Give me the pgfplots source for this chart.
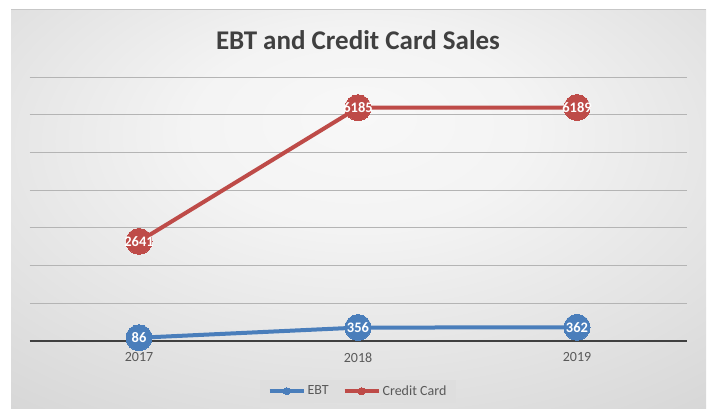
\documentclass[border=0pt]{standalone}
\usepackage{pgfplots}
\pgfplotsset{compat=1.18}
\usepackage{fontspec}
\setmainfont{Carlito}

\definecolor{ebtblue}{HTML}{4A7EBB}
\definecolor{ccred}{HTML}{BE4B48}
\definecolor{txtgray}{HTML}{595959}
\definecolor{titlegray}{HTML}{404040}
\definecolor{gridgray}{HTML}{B4B4B4}
\definecolor{bginner}{HTML}{F8F8F8}
\definecolor{bgouter}{HTML}{C2C2C2}

\pgfdeclareradialshading{chartbg}{\pgfpoint{0bp}{12bp}}{%
  color(0bp)=(bginner); color(12bp)=(bginner!92!bgouter); color(60bp)=(bgouter); color(75bp)=(bgouter)}

\begin{document}
\begin{tikzpicture}[x=1pt,y=1pt]
\useasboundingbox (0pt,0pt) rectangle (711pt,408pt);
% canvas and chart background
\fill[white] (0pt,0pt) rectangle (711pt,408pt);
\shade[shading=chartbg] (11pt,0pt) rectangle (706pt,398pt);
\draw[black!22, line width=1pt] (11pt,398pt) -- (706pt,398pt);
\node[font=\bfseries\fontsize{27}{30}\selectfont, text=titlegray, anchor=base] at (358pt,359pt) {EBT and Credit Card Sales};

\begin{axis}[
    at={(29.5pt,67pt)},
    anchor=south west,
    scale only axis,
    width=657pt,
    height=264pt,
    xmin=-0.5, xmax=2.5,
    ymin=0, ymax=7000,
    xtick={0,1,2},
    xticklabels={\mbox{2017},\mbox{2018},\mbox{2019}},
    ytick={1000,2000,...,7000},
    yticklabels={},
    extra y ticks={0},
    extra y tick labels={},
    extra y tick style={grid style={titlegray, line width=2pt}},
    major tick length=0pt,
    ymajorgrids,
    grid style={gridgray, line width=1pt},
    axis line style={draw=none},
    xticklabel style={font=\fontsize{14}{16}\selectfont, text=txtgray, yshift=-8pt},
    /pgf/number format/assume math mode=true,
    /pgf/number format/1000 sep={},
    nodes near coords={\pgfmathprintnumber{\pgfplotspointmeta}},
    nodes near coords align={center},
    every node near coord/.append style={font=\bfseries\fontsize{14.5}{16}\selectfont, text=white, anchor=center, inner sep=0pt},
    clip=false,
    legend columns=2,
    legend style={at={(0.5,-0.19)}, anchor=center, fill=black!13, draw=none,
        font=\fontsize{14}{16}\selectfont, text=txtgray,
        /tikz/every even column/.append style={column sep=12pt},
        inner xsep=8pt, inner ysep=4pt},
    legend image code/.code={
        \draw[#1, mark size=3.5pt, line width=4pt, mark repeat=2, mark phase=2]
            plot coordinates {(0pt,0pt) (17pt,0pt) (34pt,0pt)};
    },
]
\addplot[ebtblue, line width=4pt, mark=*, mark size=13pt,
    mark options={draw=ebtblue, fill=ebtblue, line width=0pt}]
    coordinates {(0,86) (1,356) (2,362)};
\addlegendentry{EBT}
\addplot[ccred, line width=4pt, mark=*, mark size=13pt,
    mark options={draw=ccred, fill=ccred, line width=0pt}]
    coordinates {(0,2641) (1,6185) (2,6189)};
\addlegendentry{Credit Card}
\end{axis}
\end{tikzpicture}
\end{document}
